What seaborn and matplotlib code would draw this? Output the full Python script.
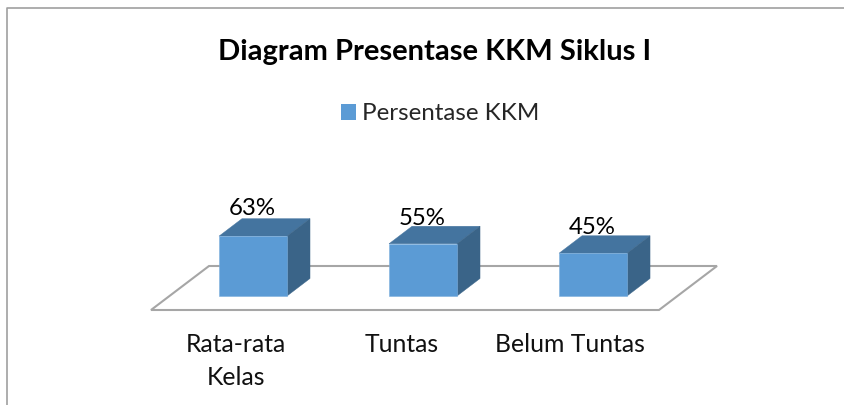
import matplotlib
matplotlib.use("Agg")
import matplotlib.pyplot as plt
from matplotlib.lines import Line2D
from matplotlib.patches import Polygon
from matplotlib.transforms import ScaledTranslation
import pandas as pd
import seaborn as sns

categories = ["Rata-rata\nKelas", "Tuntas", "Belum Tuntas"]
values = [63, 55, 45]
labels = ["63%", "55%", "45%"]
series_name = "Persentase KKM"
title = "Diagram Presentase KKM Siklus I"

W, H = 845, 405
FRONT, TOP, SIDE, EDGE = "#5B9BD5", "#44749F", "#3A6488", "#7FB0DE"
GREY = "#A6A6A6"

sns.set_theme(style="white")
plt.rcParams["font.family"] = ["Lato", "DejaVu Sans"]

fig = plt.figure(figsize=(W / 100, H / 100), dpi=100, facecolor="white")
# axes box = front edge of the floor: x 151..659, y 310 (bottom)..200 (top)
ax = fig.add_axes([151 / W, (H - 310) / H, 508 / W, 110 / H])
ax.patch.set_alpha(0)

df = pd.DataFrame({"cat": categories, "val": values, "s": series_name})
sns.barplot(data=df, x="cat", y="val", hue="s", palette=[FRONT], width=0.4, saturation=1,
            ax=ax, zorder=3, edgecolor=EDGE, linewidth=0.4, legend=False)

ax.set_xlim(-0.6, 2.388)
ppu = 0.95  # pixels per percent
ax.set_ylim(-14 / ppu, 96 / ppu)
ax.set_xlabel("")
ax.set_ylabel("")
ax.set_yticks([])
sns.despine(ax=ax, left=True, bottom=True)

# floor of the 3D plot
fx, fy = 58 / 508, 44 / 110
ax.add_patch(Polygon([(0, 0), (1, 0), (1 + fx, fy), (fx, fy)], closed=True,
                     transform=ax.transAxes, facecolor="none", edgecolor=GREY,
                     linewidth=1.5, zorder=1, clip_on=False))

# depth faces of each bar
dx, dy = 23 / 170, 17.5 / ppu
hw = 0.2
label_lift = [27.5, 25.5, 25.5]
for i, v in enumerate(values):
    ax.add_patch(Polygon([(i - hw, v), (i + hw, v), (i + hw + dx, v + dy), (i - hw + dx, v + dy)],
                         closed=True, facecolor=TOP, edgecolor=TOP, linewidth=0.3,
                         zorder=2.5, clip_on=False))
    ax.add_patch(Polygon([(i + hw, 0), (i + hw + dx, dy), (i + hw + dx, v + dy), (i + hw, v)],
                         closed=True, facecolor=SIDE, edgecolor=SIDE, linewidth=0.3,
                         zorder=2.5, clip_on=False))
    ax.annotate(labels[i], xy=(i, v), xytext=(-1 * 0.72, label_lift[i] * 0.72),
                textcoords="offset points", ha="center", va="center", fontsize=17.3,
                color="black", zorder=5, annotation_clip=False)

# tick labels, shifted left as in the 3D projection
ax.tick_params(axis="x", length=0, pad=16.5, labelsize=17.8, labelcolor="#111111")
for t, px in zip(ax.get_xticklabels(), [-17.5, -21.5, -23]):
    t.set_transform(t.get_transform() + ScaledTranslation(px / 100, 0, fig.dpi_scale_trans))
    t.set_linespacing(1.55)

fig.text(435 / W, 1 - 52 / H, title, ha="center", va="center",
         fontsize=21, fontweight="bold", color="black")

handle = plt.Rectangle((0, 0), 1, 1, facecolor=FRONT, edgecolor="none")
fig.legend([handle], [series_name], loc="center", bbox_to_anchor=(440 / W, 1 - 114 / H),
           frameon=False, fontsize=17.4, handlelength=0.62, handleheight=0.62, handletextpad=0.25)

fig.add_artist(Line2D([7 / W, 7 / W, 1], [0, 1 - 8 / H, 1 - 8 / H], color="#A0A0A0", linewidth=1.2))

fig.savefig("out.png", dpi=100, facecolor="white")
